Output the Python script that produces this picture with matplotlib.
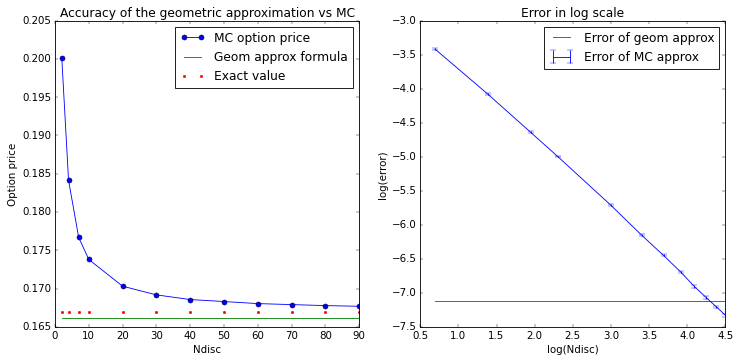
import numpy as np
import matplotlib
matplotlib.use("Agg")
import matplotlib.pyplot as plt

plt.style.use("classic")

ndisc = [2, 4, 7, 10, 20, 30, 40, 50, 60, 70, 80, 90]
mc_price = [0.2001, 0.18415, 0.17669, 0.17381, 0.17032, 0.16919,
            0.16858, 0.16832, 0.16805, 0.16792, 0.16779, 0.16770]
exact_value = [0.16701] * len(ndisc)
geom_price = [0.16622] * len(ndisc)

log_ndisc = [0.693, 1.386, 1.946, 2.303, 2.996, 3.401, 3.689, 3.912,
             4.094, 4.248, 4.382, 4.500]
log_err_mc = [-3.417, -4.080, -4.639, -4.997, -5.709, -6.150, -6.449,
              -6.690, -6.906, -7.068, -7.205, -7.328]
log_err_mc_bar = [0.012, 0.012, 0.012, 0.012, 0.015, 0.015, 0.015,
                  0.015, 0.018, 0.018, 0.02, 0.02]
log_err_geom = [-7.112] * len(log_ndisc)

dpi = 61.6
fig = plt.figure(figsize=(739.4 / dpi, 362.4 / dpi), dpi=dpi)
W, H = 739.0, 362.0
ax1 = fig.add_axes([55 / W, (H - 327) / H, 304 / W, 306 / H])
ax2 = fig.add_axes([420 / W, (H - 327) / H, 305 / W, 306 / H])

ax1.plot(ndisc, mc_price, "o-", label="MC option price")
ax1.plot(ndisc, geom_price, "-", color="g", label="Geom approx formula")
ax1.plot(ndisc, exact_value, "r.", label="Exact value")
ax1.set_xlim(0, 90)
ax1.set_ylim(0.165, 0.205)
ax1.set_xlabel("Ndisc")
ax1.set_ylabel("Option price")
ax1.set_title("Accuracy of the geometric approximation vs MC")
ax1.legend(loc="upper right")

ax2.plot(log_ndisc, log_err_geom, "-", color="g", label="Error of geom approx")
ax2.errorbar(log_ndisc, log_err_mc, yerr=log_err_mc_bar, color="b",
             label="Error of MC approx")
ax2.set_xlim(0.5, 4.5)
ax2.set_ylim(-7.5, -3.0)
ax2.set_xlabel("log(Ndisc)")
ax2.set_ylabel("log(error)")
ax2.set_title("Error in log scale")
ax2.legend(loc="upper right")

fig.savefig("out.png", dpi=dpi)
